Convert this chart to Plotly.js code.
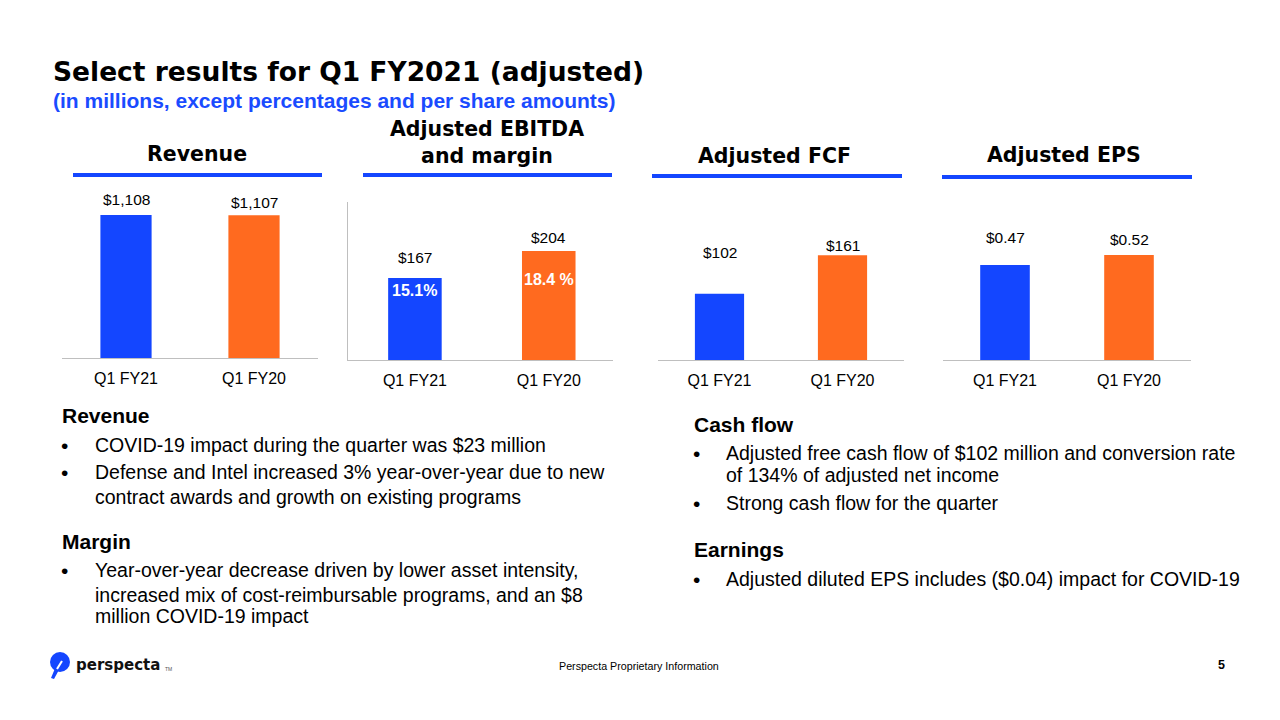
<!DOCTYPE html>
<html>
<head>
<meta charset="utf-8">
<script src="https://cdn.plot.ly/plotly-3.0.1.min.js"></script>
<style>html,body{margin:0;padding:0;background:#fff;}#chart{width:1280px;height:720px;}</style>
</head>
<body>
<div id="chart"></div>
<script>
// ---- data ----
const categories = ["Q1 FY21", "Q1 FY20"];
const revenue = [1108, 1107];
const ebitda = [167, 204];
const ebitdaMargin = ["15.1%", "18.4 %"];
const fcf = [102, 161];
const eps = [0.47, 0.52];
const panelTitles = ["Revenue", "Adjusted EBITDA<br>and margin", "Adjusted FCF", "Adjusted EPS"];
const leftNotes = [
  ["h", "Revenue"],
  ["b", "COVID-19 impact during the quarter was $23 million"],
  ["b", "Defense and Intel increased 3% year-over-year due to new"],
  ["c", "contract awards and growth on existing programs"],
  ["h", "Margin"],
  ["b", "Year-over-year decrease driven by lower asset intensity,"],
  ["c", "increased mix of cost-reimbursable programs, and an $8"],
  ["c", "million COVID-19 impact"]
];
const rightNotes = [
  ["h", "Cash flow"],
  ["b", "Adjusted free cash flow of $102 million and conversion rate"],
  ["c", "of 134% of adjusted net income"],
  ["b", "Strong cash flow for the quarter"],
  ["h", "Earnings"],
  ["b", "Adjusted diluted EPS includes ($0.04) impact for COVID-19"]
];

// ---- style ----
const BLUE = "#1446FF", ORANGE = "#FF6A1F", AXIS = "#BFBFBF";
const W = 1280, H = 720;
const px = x => x / W, py = y => 1 - y / H;
const ARIAL = "Liberation Sans, Arial, sans-serif";
const HEAVY = "DejaVu Sans, Arial Black, sans-serif";

const fmtMoney = v => "$" + v.toLocaleString("en-US");
const fmtEps = v => "$" + v.toFixed(2);

// panel geometry (pixels) and ranges
const panels = [
  {vals: revenue, fmt: fmtMoney, x0: 62, x1: 318, top: 190, bottom: 358, yr: [0, 1302], xr: [-0.5, 1.5], yline: false, shifts: [16, 13]},
  {vals: ebitda, fmt: fmtMoney, x0: 348, x1: 613, top: 202, bottom: 360, yr: [54.6, 271.2], xr: [-0.5, 1.48], yline: true, shifts: [21, 14]},
  {vals: fcf, fmt: fmtMoney, x0: 658, x1: 904, top: 200, bottom: 360, yr: [0, 246], xr: [-0.5, 1.5], yline: false, shifts: [41, 10]},
  {vals: eps, fmt: fmtEps, x0: 943, x1: 1191, top: 200, bottom: 360, yr: [0, 0.792], xr: [-0.5, 1.5], yline: false, shifts: [28, 15]}
];

const data = [];
const layout = {
  width: W, height: H,
  margin: {l: 0, r: 0, t: 0, b: 0},
  paper_bgcolor: "#fff", plot_bgcolor: "rgba(0,0,0,0)",
  showlegend: false,
  font: {family: ARIAL, color: "#000"},
  annotations: [], shapes: []
};

panels.forEach((p, i) => {
  const n = i === 0 ? "" : String(i + 1);
  data.push({
    type: "bar", x: categories, y: p.vals,
    xaxis: "x" + n, yaxis: "y" + n,
    marker: {color: [BLUE, ORANGE]}, width: 0.4,
    hoverinfo: "skip"
  });
  layout["xaxis" + n] = {
    domain: [px(p.x0), px(p.x1)], anchor: "y" + n, type: "category",
    range: p.xr, showline: true, linecolor: AXIS, linewidth: 1,
    showgrid: false, zeroline: false, ticks: "", ticklabelstandoff: 6,
    tickfont: {family: ARIAL, size: 16, color: "#000"}, fixedrange: true
  };
  layout["yaxis" + n] = {
    domain: [py(p.bottom), py(p.top)], anchor: "x" + n,
    range: p.yr, showline: p.yline, linecolor: AXIS, linewidth: 1,
    showgrid: false, zeroline: false, showticklabels: false, ticks: "", fixedrange: true
  };
  p.vals.forEach((v, k) => {
    layout.annotations.push({
      xref: "x" + n, yref: "y" + n, x: categories[k], y: v,
      text: p.fmt(v), showarrow: false, yanchor: "middle", yshift: p.shifts[k],
      font: {family: ARIAL, size: 15.5, color: "#000"}
    });
  });
});

// EBITDA margin labels inside bars
const marginShifts = [-12, -28];
ebitda.forEach((v, k) => {
  layout.annotations.push({
    xref: "x2", yref: "y2", x: categories[k], y: v, text: "<b>" + ebitdaMargin[k] + "</b>",
    showarrow: false, yanchor: "middle", yshift: marginShifts[k],
    font: {family: ARIAL, size: 16, color: "#fff"}
  });
});

// panel titles and underlines
const titlePos = [[197, 154], [487, 143], [774, 156], [1064, 155]];
const underline = [[73, 322, 175], [363, 612, 175], [652, 902, 176], [942, 1192, 177]];
panelTitles.forEach((t, i) => {
  layout.annotations.push({
    xref: "paper", yref: "paper", x: px(titlePos[i][0]), y: py(titlePos[i][1]),
    text: "<b>" + t + "</b>", showarrow: false, xanchor: "center", yanchor: "middle",
    font: {family: HEAVY, size: 20.5, color: "#000"}
  });
  layout.shapes.push({
    type: "line", xref: "paper", yref: "paper",
    x0: px(underline[i][0]), x1: px(underline[i][1]), y0: py(underline[i][2]), y1: py(underline[i][2]),
    line: {color: BLUE, width: 4}
  });
});

// headline
layout.annotations.push({
  xref: "paper", yref: "paper", x: px(51), y: py(72), xanchor: "left", yanchor: "middle",
  text: "<b>Select results for Q1 FY2021 (adjusted)</b>", showarrow: false,
  font: {family: HEAVY, size: 26.5, color: "#000"}
});
layout.annotations.push({
  xref: "paper", yref: "paper", x: px(51), y: py(101), xanchor: "left", yanchor: "middle",
  text: "<b>(in millions, except percentages and per share amounts)</b>", showarrow: false,
  font: {family: ARIAL, size: 21, color: "#1A4BFF"}
});

// notes
function addNotes(notes, ys, xh, xb, xt) {
  notes.forEach((r, i) => {
    const [kind, txt] = r;
    if (kind === "h") {
      layout.annotations.push({xref: "paper", yref: "paper", x: px(xh), y: py(ys[i]), xanchor: "left", yanchor: "middle",
        text: "<b>" + txt + "</b>", showarrow: false, font: {family: ARIAL, size: 21, color: "#000"}});
    } else {
      if (kind === "b") {
        layout.annotations.push({xref: "paper", yref: "paper", x: px(xb), y: py(ys[i]), xanchor: "left", yanchor: "middle",
          text: "•", showarrow: false, font: {family: ARIAL, size: 21, color: "#000"}});
      }
      layout.annotations.push({xref: "paper", yref: "paper", x: px(xt), y: py(ys[i]), xanchor: "left", yanchor: "middle",
        text: txt, showarrow: false, font: {family: ARIAL, size: 19.5, color: "#000"}});
    }
  });
}
addNotes(leftNotes, [416, 445, 472, 497, 541, 570, 595, 616], 60, 59, 93);
addNotes(rightNotes, [424, 453, 475, 503, 549, 579], 692, 691, 724);

// footer
layout.annotations.push({xref: "paper", yref: "paper", x: px(74), y: py(665), xanchor: "left", yanchor: "middle",
  text: "<b>perspecta</b>", showarrow: false, font: {family: HEAVY, size: 15, color: "#111"}});
layout.annotations.push({xref: "paper", yref: "paper", x: px(163), y: py(669), xanchor: "left", yanchor: "middle",
  text: "TM", showarrow: false, font: {family: ARIAL, size: 5, color: "#555"}});
layout.annotations.push({xref: "paper", yref: "paper", x: px(557), y: py(666), xanchor: "left", yanchor: "middle",
  text: "Perspecta Proprietary Information", showarrow: false, font: {family: ARIAL, size: 10.7, color: "#000"}});
layout.annotations.push({xref: "paper", yref: "paper", x: px(1227), y: py(665), xanchor: "right", yanchor: "middle",
  text: "<b>5</b>", showarrow: false, font: {family: ARIAL, size: 12.5, color: "#000"}});
layout.shapes.push({type: "circle", xref: "paper", yref: "paper", x0: px(50), x1: px(70), y0: py(672), y1: py(652),
  fillcolor: BLUE, line: {width: 0}});
layout.shapes.push({type: "path", xref: "paper", yref: "paper",
  path: `M ${px(56)} ${py(666)} L ${px(60)} ${py(668)} L ${px(54)} ${py(679)} L ${px(51)} ${py(678)} Z`,
  fillcolor: BLUE, line: {width: 0}});
layout.shapes.push({type: "path", xref: "paper", yref: "paper",
  path: `M ${px(57)} ${py(669)} L ${px(62)} ${py(661)}`,
  line: {color: "#fff", width: 2}});

Plotly.newPlot("chart", data, layout, {staticPlot: true, displayModeBar: false});
</script>
</body>
</html>
